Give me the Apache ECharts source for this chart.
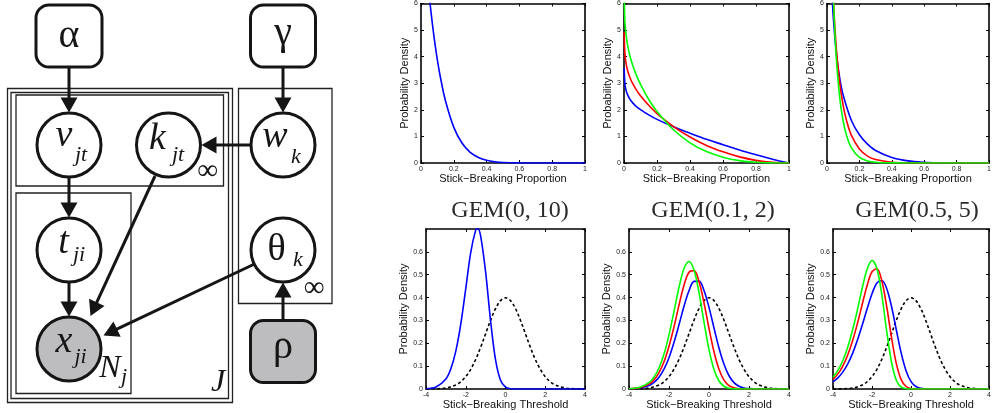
<!DOCTYPE html>
<html><head><meta charset="utf-8">
<script src="https://cdn.jsdelivr.net/npm/echarts/dist/echarts.min.js"></script>
<style>html,body{margin:0;padding:0;background:#fff}#c{width:994px;height:413px}</style>
</head><body><div id="c"></div>
<script>
// ---------------- DATA ----------------
// tick labels
const propTicks = [0, 0.2, 0.4, 0.6, 0.8, 1];
const densTopTicks = [0, 1, 2, 3, 4, 5, 6];
const threshTicks = [-4, -2, 0, 2, 4];
const densBotTicks = [0, 0.1, 0.2, 0.3, 0.4, 0.5, 0.6];
const densBotMax = 0.7;
const titles = ['GEM(0, 10)', 'GEM(0.1, 2)', 'GEM(0.5, 5)'];

// top row: stick-breaking proportion densities [x, density]
const propGem0_10 = [[0,10],[0.02,8.34],[0.04,6.93],[0.06,5.73],[0.08,4.72],[0.1,3.87],[0.12,3.17],[0.15,2.32],[0.2,1.34],[0.25,0.75],[0.3,0.40],[0.35,0.21],[0.4,0.10],[0.45,0.046],[0.5,0.02],[0.6,0.003],[0.7,0],[0.8,0],[0.9,0],[1,0]];
const propGem01_2_blue = [[0.001,3.57],[0.005,3.02],[0.01,2.80],[0.02,2.59],[0.04,2.36],[0.07,2.15],[0.1,2.01],[0.15,1.81],[0.2,1.64],[0.3,1.36],[0.4,1.12],[0.5,0.89],[0.6,0.69],[0.7,0.49],[0.8,0.31],[0.9,0.14],[0.95,0.067],[1,0]];
const propGem01_2_red = [[0.001,4.94],[0.005,4.17],[0.01,3.85],[0.02,3.52],[0.04,3.15],[0.07,2.80],[0.1,2.53],[0.15,2.17],[0.2,1.86],[0.3,1.37],[0.4,0.98],[0.5,0.66],[0.6,0.42],[0.7,0.23],[0.8,0.10],[0.9,0.025],[1,0]];
const propGem01_2_green = [[0.001,6.41],[0.005,5.39],[0.01,4.96],[0.02,4.49],[0.04,3.93],[0.07,3.38],[0.1,2.96],[0.15,2.39],[0.2,1.94],[0.3,1.25],[0.4,0.76],[0.5,0.43],[0.6,0.22],[0.7,0.09],[0.8,0.026],[0.9,0.003],[1,0]];
const propGem05_5_blue = [[0.005,17.9],[0.01,12.36],[0.02,8.35],[0.03,6.51],[0.04,5.38],[0.06,4.00],[0.08,3.14],[0.1,2.55],[0.15,1.61],[0.2,1.06],[0.25,0.71],[0.3,0.47],[0.4,0.21],[0.5,0.081],[0.6,0.027],[0.7,0.007],[0.8,0.001],[0.9,0],[1,0]];
const propGem05_5_red = [[0.01,16.1],[0.02,10.39],[0.03,7.73],[0.04,6.10],[0.05,4.97],[0.06,4.12],[0.08,2.94],[0.1,2.16],[0.12,1.61],[0.15,1.05],[0.2,0.53],[0.25,0.26],[0.3,0.13],[0.4,0.028],[0.5,0.005],[0.6,0.001],[0.8,0],[1,0]];
const propGem05_5_green = [[0.01,18.8],[0.02,11.55],[0.03,8.17],[0.04,6.12],[0.05,4.73],[0.06,3.72],[0.08,2.38],[0.1,1.57],[0.12,1.05],[0.15,0.58],[0.2,0.21],[0.25,0.077],[0.3,0.027],[0.4,0.003],[0.5,0],[0.75,0],[1,0]];

// bottom row: stick-breaking threshold densities [z, density]
const normalPrior = [[-4,0.0001],[-3.5,0.0009],[-3,0.0044],[-2.5,0.0175],[-2.25,0.0317],[-2,0.054],[-1.75,0.0863],[-1.5,0.1295],[-1.25,0.1826],[-1,0.242],[-0.75,0.3011],[-0.5,0.3521],[-0.25,0.3867],[0,0.3989],[0.25,0.3867],[0.5,0.3521],[0.75,0.3011],[1,0.242],[1.25,0.1826],[1.5,0.1295],[1.75,0.0863],[2,0.054],[2.25,0.0317],[2.5,0.0175],[3,0.0044],[3.5,0.0009],[4,0.0001]];
const thrGem0_10 = [[-4,0.0013],[-3.5,0.0087],[-3,0.044],[-2.75,0.089],[-2.5,0.166],[-2.25,0.284],[-2,0.439],[-1.75,0.597],[-1.5,0.695],[-1.4,0.702],[-1.25,0.669],[-1,0.511],[-0.75,0.298],[-0.5,0.127],[-0.25,0.038],[0,0.008],[0.25,0.001],[0.5,0],[1,0],[2,0],[3,0],[4,0]];
const thrGem01_2_blue = [[-4,0.0007],[-3.5,0.0036],[-3,0.0153],[-2.75,0.029],[-2.5,0.0518],[-2.25,0.087],[-2,0.137],[-1.75,0.204],[-1.5,0.281],[-1.25,0.362],[-1,0.430],[-0.75,0.471],[-0.5,0.472],[-0.25,0.431],[0,0.357],[0.25,0.267],[0.5,0.179],[0.75,0.108],[1,0.058],[1.25,0.028],[1.5,0.012],[1.75,0.0045],[2,0.0015],[2.5,0.0001],[3,0],[4,0]];
const thrGem01_2_red = [[-4,0.0009],[-3.5,0.005],[-3,0.0212],[-2.75,0.040],[-2.5,0.0714],[-2.25,0.119],[-2,0.187],[-1.75,0.272],[-1.5,0.367],[-1.25,0.454],[-1,0.511],[-0.75,0.518],[-0.5,0.470],[-0.25,0.377],[0,0.265],[0.25,0.163],[0.5,0.086],[0.75,0.039],[1,0.015],[1.25,0.005],[1.5,0.0014],[2,0],[3,0],[4,0]];
const thrGem01_2_green = [[-4,0.0012],[-3.5,0.0065],[-3,0.0276],[-2.75,0.052],[-2.5,0.092],[-2.25,0.153],[-2,0.237],[-1.75,0.339],[-1.5,0.445],[-1.25,0.527],[-1,0.558],[-0.75,0.521],[-0.5,0.422],[-0.25,0.293],[0,0.172],[0.25,0.085],[0.5,0.035],[0.75,0.012],[1,0.003],[1.25,0.0007],[1.5,0],[2,0],[3,0],[4,0]];
const thrGem05_5_blue = [[-4,0.0308],[-3.75,0.0486],[-3.5,0.0739],[-3.25,0.109],[-3,0.155],[-2.75,0.213],[-2.5,0.280],[-2.25,0.351],[-2,0.417],[-1.75,0.464],[-1.5,0.475],[-1.25,0.440],[-1,0.361],[-0.75,0.257],[-0.5,0.156],[-0.25,0.079],[0,0.032],[0.25,0.011],[0.5,0.003],[0.75,0.0006],[1,0],[2,0],[3,0],[4,0]];
const thrGem05_5_red = [[-4,0.0419],[-3.75,0.0661],[-3.5,0.1005],[-3.25,0.148],[-3,0.210],[-2.75,0.286],[-2.5,0.371],[-2.25,0.453],[-2,0.513],[-1.75,0.526],[-1.5,0.474],[-1.25,0.362],[-1,0.226],[-0.75,0.110],[-0.5,0.040],[-0.25,0.011],[0,0.002],[0.25,0.0002],[0.5,0],[1,0],[2,0],[3,0],[4,0]];
const thrGem05_5_green = [[-4,0.0516],[-3.75,0.0813],[-3.5,0.1235],[-3.25,0.182],[-3,0.257],[-2.75,0.346],[-2.5,0.442],[-2.25,0.524],[-2,0.562],[-1.75,0.527],[-1.5,0.413],[-1.25,0.255],[-1,0.117],[-0.75,0.0375],[-0.5,0.0079],[-0.25,0.001],[0,0.0001],[0.5,0],[1,0],[2,0],[3,0],[4,0]];

// ---------------- LAYOUT / STYLE ----------------
const FONT = '"Liberation Sans", Arial, sans-serif';
const SERIF = '"Liberation Serif", "Times New Roman", serif';
const COLORS = {blue:'#0000ff', red:'#ff0000', green:'#00ff00', dash:'#000000'};

const panelLayout = [
  {left:421, top:0,   width:164, height:163},
  {left:624, top:0,   width:165, height:163},
  {left:827, top:0,   width:165, height:163},
  {left:426, top:229, width:159, height:160},
  {left:629, top:229, width:160, height:160},
  {left:833, top:229, width:159, height:160}
];
const panelSeries = [
  [[propGem0_10,'blue']],
  [[propGem01_2_blue,'blue'],[propGem01_2_red,'red'],[propGem01_2_green,'green']],
  [[propGem05_5_blue,'blue'],[propGem05_5_red,'red'],[propGem05_5_green,'green']],
  [[normalPrior,'dash'],[thrGem0_10,'blue']],
  [[normalPrior,'dash'],[thrGem01_2_blue,'blue'],[thrGem01_2_red,'red'],[thrGem01_2_green,'green']],
  [[normalPrior,'dash'],[thrGem05_5_blue,'blue'],[thrGem05_5_red,'red'],[thrGem05_5_green,'green']]
];
const titleCenters = [505, 708, 912];

const grids = [], xAxes = [], yAxes = [], series = [];
panelLayout.forEach((g, i) => {
  const top = i < 3;
  grids.push(Object.assign({containLabel:false}, g));
  const xt = top ? propTicks : threshTicks;
  const yt = top ? densTopTicks : densBotTicks;
  [false, true].forEach(mirror => {
    xAxes.push({
      gridIndex:i, type:'value', position: mirror ? 'top' : 'bottom',
      min: xt[0], max: xt[xt.length-1], interval: xt[1]-xt[0],
      name: mirror ? '' : (top ? 'Stick\u2212Breaking Proportion' : 'Stick\u2212Breaking Threshold'),
      nameLocation:'middle', nameGap: top ? 9 : 7,
      nameTextStyle:{fontSize:11, color:'#111', fontFamily:FONT},
      axisLine:{show:true, onZero:false, lineStyle:{color:'#000', width:1.6}},
      axisTick:{show:true, inside:true, length:3, lineStyle:{color:'#000', width:1}},
      axisLabel:{show:!mirror, fontSize:7, color:'#222', margin:3, fontFamily:FONT},
      splitLine:{show:false}
    });
    yAxes.push({
      gridIndex:i, type:'value', position: mirror ? 'right' : 'left',
      min: yt[0], max: top ? yt[yt.length-1] : densBotMax, interval: yt[1]-yt[0],
      name: mirror ? '' : 'Probability Density',
      nameLocation:'middle', nameGap: top ? 9 : 13,
      nameTextStyle:{fontSize:11, color:'#111', fontFamily:FONT},
      axisLine:{show:true, onZero:false, lineStyle:{color:'#000', width:1.6}},
      axisTick:{show:true, inside:true, length:3, lineStyle:{color:'#000', width:1}},
      axisLabel:{show:!mirror, fontSize:7, color:'#222', margin:3, fontFamily:FONT, showMaxLabel: top},
      splitLine:{show:false}
    });
  });
  panelSeries[i].forEach(([data, c]) => {
    series.push({
      type:'line', xAxisIndex:2*i, yAxisIndex:2*i, data,
      showSymbol:false, smooth:0.35, clip:true, silent:true,
      lineStyle:{color:COLORS[c], width:1.6, type: c === 'dash' ? [3,2.5] : 'solid'}
    });
  });
});

// ---------------- GRAPHICAL MODEL (diagram) ----------------
const INK = '#151515', GRAY = '#bdbdbf';
const plates = [[7.5,88.5,225,314],[11,92.5,217.5,306],[16,95,207.5,91],[16,193,115,200.5],[238.5,88.5,93.5,215]];
const boxes = [[36,5,66,62,'#fff'],[250.5,5,65,62,'#fff'],[250.5,320.5,65,62,GRAY]];
const nodes = [[69,145,'#fff'],[168.5,145,'#fff'],[283,145,'#fff'],[69,250,'#fff'],[283,250,'#fff'],[69,349,GRAY]];
const arrows = [[69,67,69,112.5],[283,67,283,112.5],[250.5,145,201.5,145],[69,177.5,69,217.5],[69,282.5,69,316.5],
  [155,176,90.5,316],[254.5,264,103.5,335.5],[283,320.5,283,282.5]];
const G = [];
plates.forEach(p => G.push({type:'rect', z:1, shape:{x:p[0],y:p[1],width:p[2],height:p[3]}, style:{fill:null, stroke:'#222', lineWidth:1.3}}));
arrows.forEach(a => {
  const [x1,y1,x2,y2] = a, L = 15, H = 8.5;
  const dx = x2-x1, dy = y2-y1, len = Math.hypot(dx,dy), ux = dx/len, uy = dy/len;
  const bx = x2-ux*L, by = y2-uy*L;
  G.push({type:'line', z:2, shape:{x1,y1,x2:bx+ux*2,y2:by+uy*2}, style:{stroke:INK, lineWidth:3}});
  G.push({type:'polygon', z:2, shape:{points:[[x2,y2],[bx-uy*H,by+ux*H],[bx+uy*H,by-ux*H]]}, style:{fill:INK}});
});
boxes.forEach(b => G.push({type:'rect', z:3, shape:{x:b[0],y:b[1],width:b[2],height:b[3],r:13}, style:{fill:b[4], stroke:INK, lineWidth:3}}));
nodes.forEach(n => G.push({type:'circle', z:3, shape:{cx:n[0],cy:n[1],r:32}, style:{fill:n[2], stroke:INK, lineWidth:3}}));
const labels = [
  ['\u03b1',69,36.5,'normal',40],['\u03b3',283,33.5,'normal',40],['\u03c1',283,347,'normal',40],
  ['v',64,136,'italic',38],['jt',81,155,'italic',22],
  ['k',157.5,139,'italic',38],['jt',178,155,'italic',22],
  ['w',275,137,'italic',38],['k',296,157.5,'italic',22],
  ['t',63.5,243,'italic',38],['ji',79,255.5,'italic',22],
  ['\u03b8',276.5,250.5,'normal',38],['k',298,260,'italic',22],
  ['x',64,342,'italic',38],['ji',80.5,357,'italic',22],
  ['\u221e',207.5,171,'normal',29],['\u221e',314,288,'normal',29],
  ['N',110,369,'italic',32],['j',124,377,'italic',22],['J',218,383,'italic',32]
];
labels.forEach(l => G.push({type:'text', z:4, x:l[1], y:l[2], style:{text:l[0], fill:INK, font:l[3]+' '+l[4]+'px '+SERIF, align:'center', verticalAlign:'middle'}}));

const option = {
  animation:false,
  backgroundColor:'#fff',
  title: titles.map((t,i) => ({text:t, left:titleCenters[i], top:194, textAlign:'center',
    textStyle:{fontFamily:SERIF, fontSize:24, fontWeight:'normal', color:'#2a2a2a'}})),
  grid: grids, xAxis: xAxes, yAxis: yAxes, series,
  graphic: G
};
const chart = echarts.init(document.getElementById('c'), null, {renderer:'canvas'});
chart.setOption(option);
</script></body></html>
